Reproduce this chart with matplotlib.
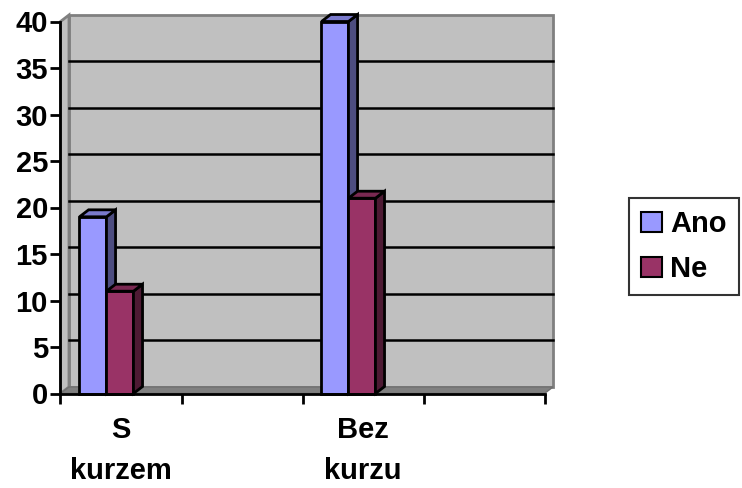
import matplotlib
matplotlib.use("Agg")
import matplotlib.pyplot as plt
from matplotlib.patches import Polygon, Patch

plt.rcParams["font.family"] = ["Liberation Sans", "DejaVu Sans"]
plt.rcParams["font.weight"] = "bold"

categories = ["S\nkurzem", "", "Bez\nkurzu", ""]
series_names = ["Ano", "Ne"]
ano = [19, 0, 40, 0]
ne = [11, 0, 21, 0]
y_ticks = [0, 5, 10, 15, 20, 25, 30, 35, 40]

front_colors = ["#9999ff", "#993366"]
side_colors = ["#4d4d80", "#4d1a33"]
top_colors = ["#7a7acc", "#7a2952"]

W, H = 742, 488
fig = plt.figure(figsize=(W / 100, H / 100), dpi=100)
# axes box in pixels: x 50..560, y 10..400 (from top)
ax = fig.add_axes([50 / W, (H - 400) / H, 510 / W, 390 / H])
ax.set_xlim(-10.5 / 121, (560 - 60.5) / 121)
ax.set_ylim(-6.5 / 9.3, 383.5 / 9.3)
ax.patch.set_alpha(0)

n = len(categories)
ymax = 40
dx, dy = 0.07, 0.7  # depth of the walls in data units

wall = "#c0c0c0"
wall_edge = "#808080"
# back wall, side wall and floor
ax.add_patch(Polygon([(dx, dy), (n + dx, dy), (n + dx, ymax + dy), (dx, ymax + dy)],
                     closed=True, fc=wall, ec=wall_edge, lw=2, zorder=1))
ax.add_patch(Polygon([(0, 0), (dx, dy), (dx, ymax + dy), (0, ymax)],
                     closed=True, fc=wall, ec=wall_edge, lw=2, zorder=1))
ax.add_patch(Polygon([(0, 0), (n, 0), (n + dx, dy), (dx, dy)],
                     closed=True, fc="#808080", ec="#707070", lw=1, zorder=1))

# gridlines on the back wall
for t in y_ticks[1:-1]:
    ax.plot([dx, n + dx], [t + dy, t + dy], color="black", lw=1.8, zorder=2)

# 3d-looking columns
bw = 0.223
off = 0.157
bdx, bdy = 0.075, 0.75
for s, vals in enumerate([ano, ne]):
    for i, v in enumerate(vals):
        if v == 0:
            continue
        x0 = i + off + s * bw
        z = 3 + s
        ax.bar(x0, v, width=bw, align="edge", color=front_colors[s],
               edgecolor="black", lw=2, zorder=z)
        ax.add_patch(Polygon([(x0 + bw, 0), (x0 + bw + bdx, bdy),
                              (x0 + bw + bdx, v + bdy), (x0 + bw, v)],
                             closed=True, fc=side_colors[s], ec="black",
                             lw=2, zorder=z))
        ax.add_patch(Polygon([(x0, v), (x0 + bw, v), (x0 + bw + bdx, v + bdy),
                              (x0 + bdx, v + bdy)],
                             closed=True, fc=top_colors[s], ec="black",
                             lw=2, zorder=z))

# axes lines
for side in ["top", "right"]:
    ax.spines[side].set_visible(False)
ax.spines["left"].set_position(("data", 0))
ax.spines["bottom"].set_position(("data", 0))
ax.spines["left"].set_bounds(0, ymax)
ax.spines["bottom"].set_bounds(0, n)
for side in ["left", "bottom"]:
    ax.spines[side].set_linewidth(2)
    ax.spines[side].set_zorder(10)

ax.set_yticks(y_ticks)
ax.set_xticks(range(n + 1))
ax.set_xticklabels([])
ax.set_xticks([i + 0.5 for i in range(n)], minor=True)
ax.set_xticklabels(categories, minor=True, fontsize=21, fontweight="bold",
                   linespacing=1.62)
ax.tick_params(axis="both", which="major", direction="out", length=7,
               width=2, color="black")
ax.tick_params(axis="y", labelsize=21, pad=2)
ax.tick_params(axis="x", which="minor", length=0, pad=16)
for t in ax.get_yticklabels():
    t.set_fontweight("bold")

handles = [Patch(facecolor=c, edgecolor="black", lw=1.5) for c in front_colors]
leg = fig.legend(handles, series_names, loc="upper left",
                 bbox_to_anchor=(629 / W, 1 - 198 / H),
                 prop={"weight": "bold", "size": 21}, frameon=True,
                 fancybox=False, handlelength=0.7, handleheight=0.7,
                 handletextpad=0.3, labelspacing=0.58, borderpad=0.42,
                 borderaxespad=0)
leg.get_frame().set_edgecolor("black")
leg.get_frame().set_linewidth(1.5)

fig.savefig("out.png", dpi=100)
